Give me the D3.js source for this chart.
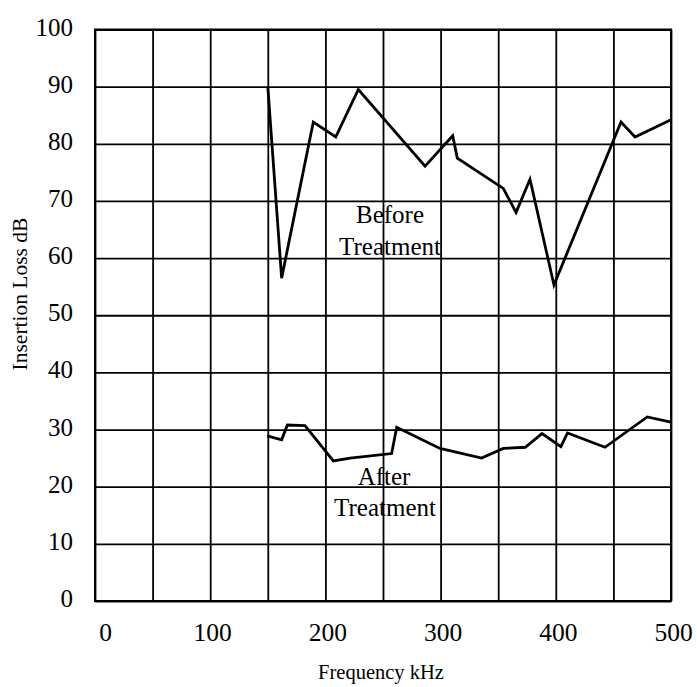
<!DOCTYPE html>
<html lang="en">

<head>
  <meta charset="UTF-8">
  <title>Insertion Loss</title>
  <style>
    body { margin: 0; background: #fff; }
    text { font-family: "Liberation Serif", "Times New Roman", serif; fill: #000; }
  </style>
</head>

<body>
  <svg></svg>
  <script src="https://cdn.jsdelivr.net/npm/d3@7"></script>
  <script>
    // data (frequency kHz, insertion loss dB)
    var beforeFreq = [150, 162, 189.5, 209, 228.6, 286.5, 310.5, 314.5, 354.4, 365.5, 377.6, 398.4, 456.6, 468.8, 500];
    var beforeLoss = [90, 56.5, 83.8, 81.2, 89.5, 76.1, 81.4, 77.5, 72.2, 68.0, 73.8, 55.3, 83.8, 81.2, 84.2];

    var afterFreq = [149.5, 162, 167, 182.3, 206.9, 221.4, 257.5, 261.9, 299.5, 335.6, 354.4, 373.5, 388, 404.4, 410.2, 442.7, 479.4, 500];
    var afterLoss = [28.9, 28.2, 30.8, 30.7, 24.5, 25.0, 25.8, 30.4, 26.7, 25.0, 26.7, 26.9, 29.3, 27.0, 29.4, 26.9, 32.2, 31.3];

    var xTicks = [0, 100, 200, 300, 400, 500];
    var yTicks = [0, 10, 20, 30, 40, 50, 60, 70, 80, 90, 100];
    var xGrid = d3.range(0, 501, 50);

    var width = 697, height = 687;
    // 绘图区边界 (window.top 不能用作变量名)
    var plotL = 95, plotR = 671, plotT = 29.5, plotB = 601;
    var serif = '"Liberation Serif", "Times New Roman", serif';

    var svg = d3.select("svg")
      .attr("width", width)
      .attr("height", height);

    var x = d3.scaleLinear().domain([0, 500]).range([plotL, plotR]);
    var y = d3.scaleLinear().domain([0, 100]).range([plotB, plotT]);

    // 网格
    var grid = svg.append("g").attr("class", "grid");
    grid.append("g")
      .attr("transform", `translate(0, ${plotB})`)
      .call(d3.axisBottom(x).tickValues(xGrid).tickSize(-(plotB - plotT)).tickFormat(""))
      .call(g => g.select(".domain").remove());
    grid.append("g")
      .attr("transform", `translate(${plotL}, 0)`)
      .call(d3.axisLeft(y).tickValues(yTicks).tickSize(-(plotR - plotL)).tickFormat(""))
      .call(g => g.select(".domain").remove());
    grid.selectAll("line")
      .attr("stroke", "#000")
      .attr("stroke-width", 1.8);

    // 边框
    svg.append("rect")
      .attr("x", plotL)
      .attr("y", plotT)
      .attr("width", plotR - plotL)
      .attr("height", plotB - plotT)
      .attr("fill", "none")
      .attr("stroke", "#000")
      .attr("stroke-width", 2);

    // 刻度标签
    var xAxis = svg.append("g")
      .attr("transform", `translate(0, ${plotB})`)
      .call(d3.axisBottom(x).tickValues(xTicks).tickSize(0).tickPadding(22));
    xAxis.select(".domain").remove();
    xAxis.selectAll("text")
      .style("font-family", serif)
      .style("font-size", "25.5px")
      .attr("dx", (d, i) => i === 0 ? 10 : 2);

    var yAxis = svg.append("g")
      .attr("transform", `translate(${plotL}, 0)`)
      .call(d3.axisLeft(y).tickValues(yTicks).tickSize(0).tickPadding(22));
    yAxis.select(".domain").remove();
    yAxis.selectAll("text")
      .style("font-family", serif)
      .style("font-size", "25px")
      .attr("dy", "0.22em");

    // 轴标题
    svg.append("text")
      .attr("x", (plotL + plotR) / 2 - 2)
      .attr("y", 679)
      .attr("text-anchor", "middle")
      .style("font-size", "20.5px")
      .text("Frequency kHz");

    svg.append("text")
      .attr("transform", "translate(27, 294) rotate(-90)")
      .attr("text-anchor", "middle")
      .style("font-size", "21.5px")
      .text("Insertion Loss dB");

    // 曲线
    var line = d3.line()
      .x(d => x(d[0]))
      .y(d => y(d[1]));

    var series = [
      d3.zip(beforeFreq, beforeLoss),
      d3.zip(afterFreq, afterLoss)
    ];

    svg.append("g")
      .selectAll("path")
      .data(series)
      .join("path")
      .attr("d", line)
      .attr("fill", "none")
      .attr("stroke", "#000")
      .attr("stroke-width", 2.8)
      .attr("stroke-linejoin", "miter");

    // 曲线标注
    var notes = [
      { text: "Before", cx: 390, by: 223 },
      { text: "Treatment", cx: 390, by: 255 },
      { text: "After", cx: 384, by: 485 },
      { text: "Treatment", cx: 385, by: 516 }
    ];
    svg.append("g")
      .selectAll("text")
      .data(notes)
      .join("text")
      .attr("x", d => d.cx)
      .attr("y", d => d.by)
      .attr("text-anchor", "middle")
      .style("font-size", "25px")
      .text(d => d.text);
  </script>
</body>

</html>
